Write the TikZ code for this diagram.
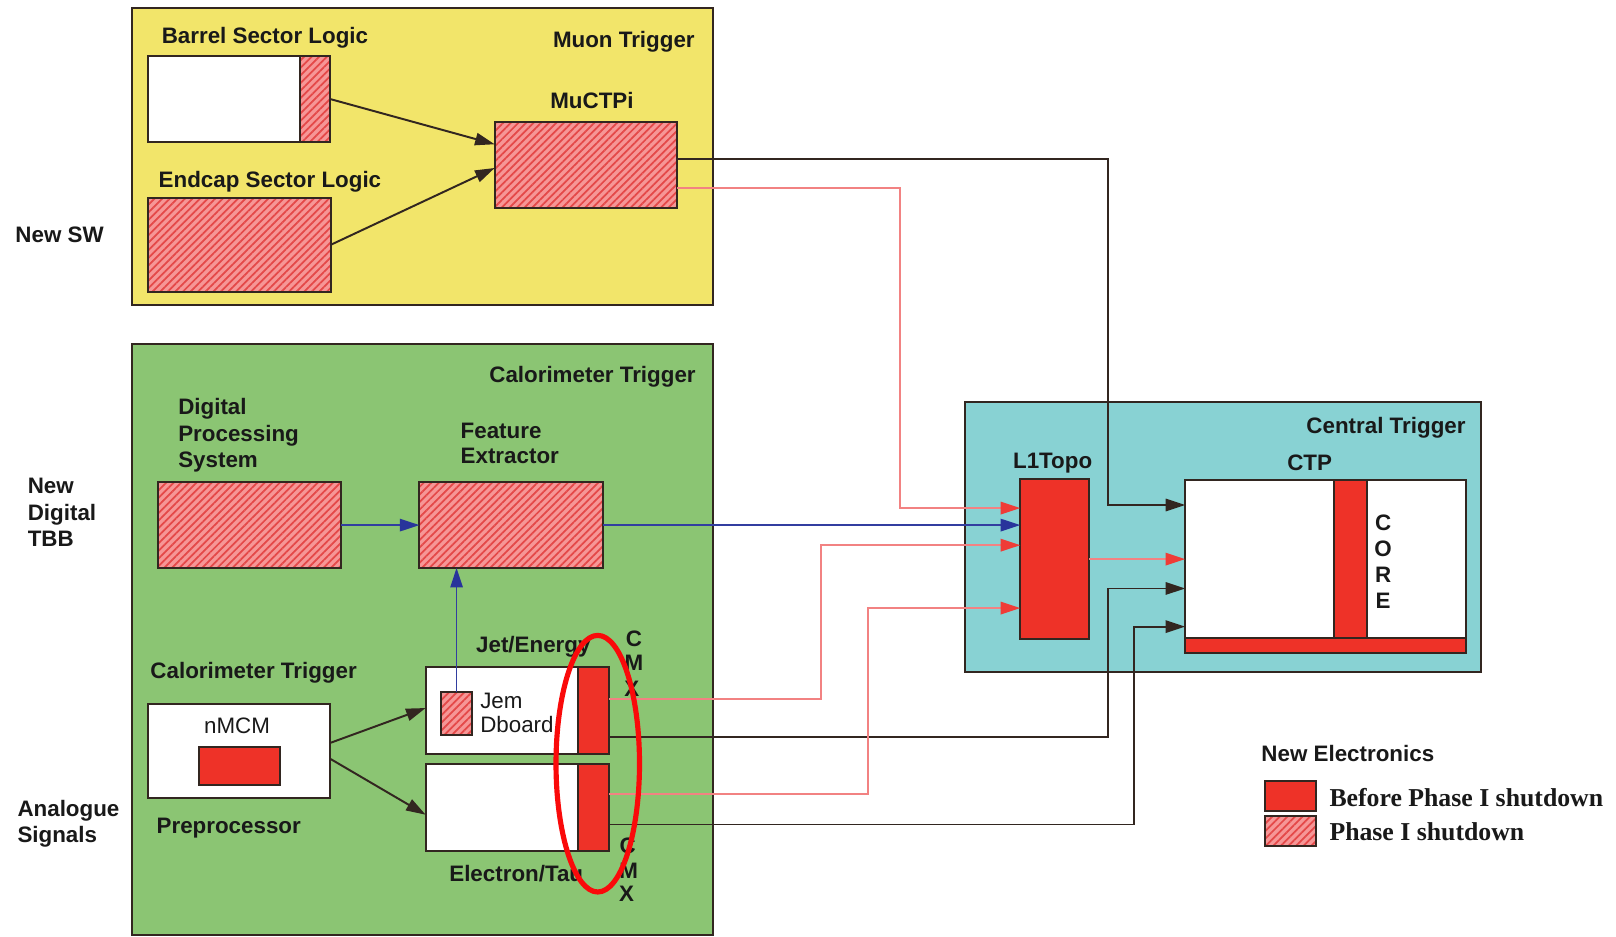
\documentclass[tikz,border=0pt]{standalone}
\usepackage{fontspec}
\setmainfont{Liberation Sans}
\newfontfamily\legendfont{Liberation Serif}
\usetikzlibrary{arrows.meta,patterns.meta,shapes.geometric}
\definecolor{muony}{RGB}{242,229,106}
\definecolor{calog}{RGB}{139,197,115}
\definecolor{centc}{RGB}{136,210,211}
\definecolor{solidr}{RGB}{238,50,40}
\definecolor{hatchbg}{RGB}{246,150,150}
\definecolor{hatchln}{RGB}{228,72,72}
\definecolor{linered}{RGB}{242,130,130}
\definecolor{tipred}{RGB}{239,60,55}
\definecolor{lineblue}{RGB}{50,62,160}
\definecolor{tipblue}{RGB}{40,52,155}
\definecolor{edge}{RGB}{50,38,32}
\definecolor{txt}{RGB}{25,25,25}
\definecolor{ringred}{RGB}{250,10,10}
\begin{document}
\begin{tikzpicture}[x=1pt,y=-1pt,
  every node/.style={inner sep=0pt,outer sep=0pt},
  frame/.style={draw=edge,line width=2pt,anchor=north west},
  wbox/.style={draw=edge,line width=2pt,anchor=north west,fill=white},
  sbox/.style={draw=edge,line width=2pt,anchor=north west,fill=solidr},
  hbox/.style={draw=edge,line width=2pt,anchor=north west,preaction={fill=hatchbg},
    pattern={Lines[angle=45,distance=5.2pt,line width=1.7pt]},pattern color=hatchln},
  blk/.style={draw=edge,line width=1.9pt,-{Triangle[length=19pt,width=12pt]}},
  rd/.style={draw=linered,line width=1.9pt,-{Triangle[length=19pt,width=12pt,color=tipred]}},
  bl/.style={draw=lineblue,line width=1.7pt,-{Triangle[length=19pt,width=12pt,color=tipblue]}},
  lbl/.style={anchor=base west,font=\fontsize{21.7}{26}\selectfont\bfseries,text=txt},
  lblr/.style={lbl,anchor=base east},
  lblc/.style={lbl,anchor=base},
  reg/.style={anchor=base west,font=\fontsize{21.7}{26}\selectfont,text=txt},
  leg/.style={anchor=base west,font=\legendfont\fontsize{25}{30}\selectfont\bfseries,text=txt}
]
\useasboundingbox (0,0) rectangle (1568,909);
\fill[white] (0,0) rectangle (1568,909);

% containers
\node[frame,fill=muony,minimum width=564pt,minimum height=288pt] (muon) at (128,8) {};
\node[frame,fill=calog,minimum width=564pt,minimum height=573pt] (calo) at (128,334) {};
\node[frame,fill=centc,minimum width=501pt,minimum height=262pt] (cent) at (936,390) {};

% muon trigger boxes
\node[wbox,minimum width=147pt,minimum height=84pt] (barrel) at (144,54) {};
\node[hbox,minimum width=29pt,minimum height=84pt] (barrelsl) at (291,54) {};
\node[hbox,minimum width=177pt,minimum height=91pt] (endcap) at (144,192) {};
\node[hbox,minimum width=177pt,minimum height=84pt] (muctpi) at (480,118) {};

% calorimeter trigger boxes
\node[hbox,minimum width=178pt,minimum height=83pt] (dps) at (153,468) {};
\node[hbox,minimum width=178pt,minimum height=83pt] (fe) at (407,468) {};
\node[wbox,minimum width=176pt,minimum height=91pt] (pre) at (144,683) {};
\node[sbox,minimum width=79pt,minimum height=37pt] (nmcm) at (193,725) {};
\node[wbox,minimum width=148pt,minimum height=85pt] (jetw) at (413,647) {};
\node[sbox,minimum width=30pt,minimum height=85pt] (jetc) at (561,647) {};
\node[hbox,minimum width=30pt,minimum height=42pt] (jem) at (428,671) {};
\node[wbox,minimum width=148pt,minimum height=85pt] (elew) at (413,741) {};
\node[sbox,minimum width=30pt,minimum height=85pt] (elec) at (561,741) {};

% central trigger boxes
\node[sbox,minimum width=67pt,minimum height=155pt] (l1topo) at (990,465) {};
\node[wbox,minimum width=272pt,minimum height=153pt] (ctp) at (1150,466) {};
\node[sbox,minimum width=32pt,minimum height=153pt] (core) at (1294,466) {};
\node[sbox,minimum width=272pt,minimum height=15pt] (ctpbar) at (1150,619) {};

% legend boxes
\node[sbox,minimum width=50pt,minimum height=29pt] (leg1) at (1227,758) {};
\node[hbox,minimum width=50pt,minimum height=29pt] (leg2) at (1227,792) {};

% connectors
\draw[blk] (barrelsl.east) -- ([yshift=20pt]muctpi.west);
\draw[blk] (endcap.east) -- ([yshift=-3pt]muctpi.west);
\draw[blk] ([yshift=6pt]muctpi.east) -| (1075,490) -- ([yshift=52.5pt]ctp.west);
\draw[rd] ([yshift=-22pt]muctpi.east) -| (873,493) -- ([yshift=49.5pt]l1topo.west);
\draw[bl] (dps.east) -- (fe.west);
\draw[bl] (fe.east) -- (fe.east -| l1topo.west);
\draw[bl] (jem.north) -- (jem.north |- fe.south);
\draw[blk] ([yshift=7.5pt]pre.east) -- ([yshift=2.5pt]jetw.west);
\draw[blk] ([yshift=-7.5pt]pre.east) -- ([yshift=-7pt]elew.west);
\draw[rd] ([yshift=11pt]jetc.east) -| (797,529) -- ([yshift=13.5pt]l1topo.west);
\draw[blk] ([yshift=-26pt]jetc.east) -| (1075,571) -- ([yshift=-28.5pt]ctp.west);
\draw[rd] ([yshift=13.5pt]elec.east) -| (842,590) -- ([yshift=-47.5pt]l1topo.west);
\draw[blk] ([yshift=-16.5pt]elec.east) -| (1100,608) -- ([yshift=-65.5pt]ctp.west);
\draw[rd] (l1topo.east) -- (l1topo.east -| ctp.west);

% labels
\node[lbl] (tbarrel) at (157,42) {Barrel Sector Logic};
\node[lblr] (tmuon) at (674,46) {Muon Trigger};
\node[lbl] (tmuctpi) at (534,105) {MuCTPi};
\node[lbl] (tendcap) at (154,182) {Endcap Sector Logic};
\node[lbl] (tnewsw) at (15,235) {New SW};
\node[lblr] (tcalo) at (675,371) {Calorimeter Trigger};
\node[lbl] (tdps1) at (173,402) {Digital};
\node[lbl] (tdps2) at (173,428) {Processing};
\node[lbl] (tdps3) at (173,454) {System};
\node[lbl] (tfe1) at (447,425) {Feature};
\node[lbl] (tfe2) at (447,450) {Extractor};
\node[lbl] (tnd1) at (27,479) {New};
\node[lbl] (tnd2) at (27,505) {Digital};
\node[lbl] (tnd3) at (27,530) {TBB};
\node[lbl] (tcalo2) at (146,658) {Calorimeter Trigger};
\node[reg,anchor=base] (tnmcm) at (230,712) {nMCM};
\node[lbl] (tpre) at (152,809) {Preprocessor};
\node[lbl] (tjet) at (462,633) {Jet/Energy};
\node[reg] (tjem1) at (466,687) {Jem};
\node[reg] (tjem2) at (466,711) {Dboard};
\node[lbl] (tele) at (436,855) {Electron/Tau};
\node[lbl] (tan1) at (17,792) {Analogue};
\node[lbl] (tan2) at (17,817) {Signals};
\node[lblr] (tcent) at (1422,421) {Central Trigger};
\node[lbl] (tl1) at (983,455) {L1Topo};
\node[lbl] (tctp) at (1249,457) {CTP};
\node[lblc] (tc1) at (1342,515) {C};
\node[lblc] (tc2) at (1342,540) {O};
\node[lblc] (tc3) at (1342,565) {R};
\node[lblc] (tc4) at (1342,590) {E};
\node[lblc] (tx1) at (615,627) {C};
\node[lblc] (tx2) at (615,651) {M};
\node[lblc] (tx3) at (613,676) {X};
\node[lblc] (ty1) at (609,828) {C};
\node[lblc] (ty2) at (610,852) {M};
\node[lblc] (ty3) at (608,875) {X};
\node[lbl] (tnewel) at (1224,739) {New Electronics};
\node[leg] (tleg1) at (1290,783) {Before Phase I shutdown};
\node[leg] (tleg2) at (1290,816) {Phase I shutdown};

% highlight ring
\node[ellipse,draw=ringred,line width=5pt,minimum width=81pt,minimum height=249pt] (ring) at (580,741) {};
\end{tikzpicture}
\end{document}
